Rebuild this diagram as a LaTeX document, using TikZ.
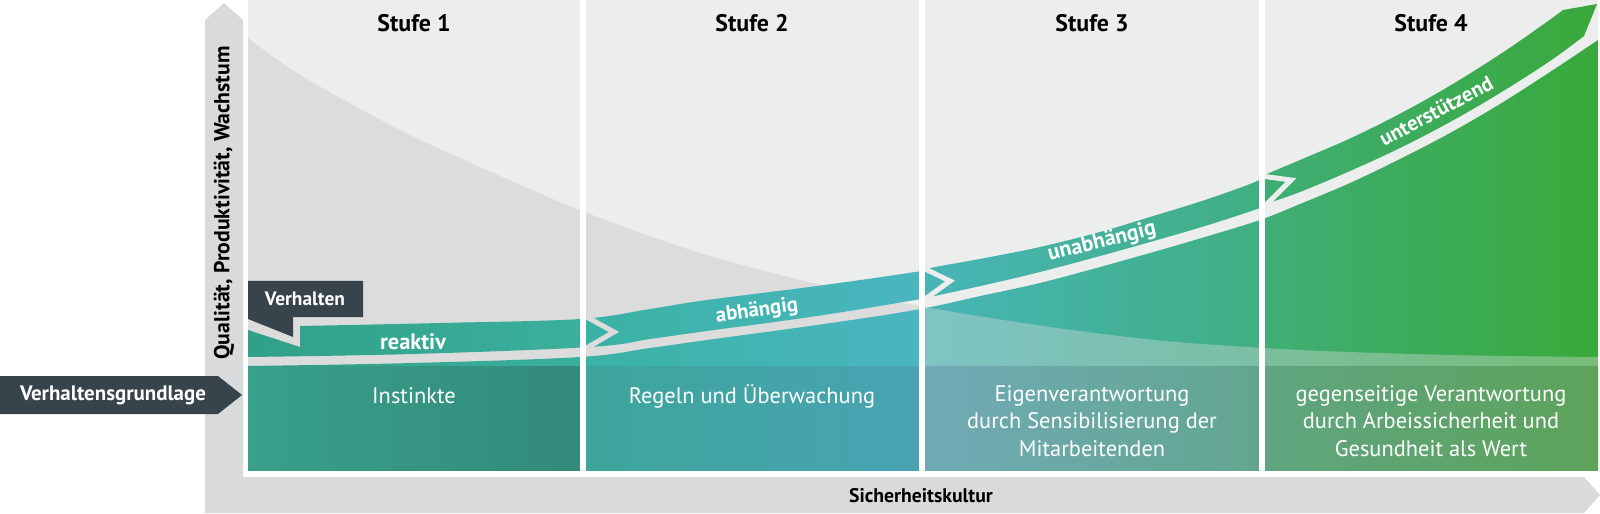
\documentclass[tikz,border=0pt]{standalone}
\usepackage{fontspec}
\setmainfont{PT Sans}
\definecolor{axisgray}{HTML}{D9DADB}
\definecolor{panelgray}{HTML}{ECEDED}
\definecolor{curvegray}{HTML}{DCDCDC}
\definecolor{slate}{HTML}{37444B}
\definecolor{cIa}{HTML}{31A088}\definecolor{cIb}{HTML}{3AB09D}
\definecolor{cIIa}{HTML}{3AB2A3}\definecolor{cIIb}{HTML}{4AB6C1}
\definecolor{cIIIa}{HTML}{47B5B7}\definecolor{cIIIb}{HTML}{40AF82}
\definecolor{cIVa}{HTML}{3FAE76}\definecolor{cIVb}{HTML}{39A93A}
\definecolor{bIa}{HTML}{38A08B}\definecolor{bIb}{HTML}{338A7A}
\definecolor{bIIa}{HTML}{3DA59B}\definecolor{bIIb}{HTML}{49A3B3}
\definecolor{bIIIa}{HTML}{70AAB5}\definecolor{bIIIb}{HTML}{62A68F}
\definecolor{bIVa}{HTML}{5FA580}\definecolor{bIVb}{HTML}{5DA35A}
\newcommand\curvepath{plot[smooth,tension=0.5] coordinates {(248,38) (300,75) (400,130) (500,176) (587,213) (700,253) (817,284) (925,307) (1050,327) (1165,341) (1300,350) (1450,355) (1598,357)} -- (1598,470) -- (248,470) -- cycle}
\newcommand\bandpath{(248,330) -- (300,347) -- (300,326) -- plot[smooth,tension=0.6] coordinates {(300,326) (440,323) (580,319) (650,309) (707,300) (817,286) (915,272) (930,268) (985,258) (1040,247) (1100,232) (1150,217) (1205,200) (1255,182) (1265,175) (1300,160) (1350,138.5) (1400,113.7) (1450,85.7) (1500,54.3) (1540,26.8) (1563,10)} -- (1597,4) -- (1584,36) -- plot[smooth,tension=0.6] coordinates {(1584,36) (1550,61) (1500,93) (1450,122) (1400,148) (1350,171) (1300,192) (1272,202) (1260,208) (1205,226) (1150,242) (1100,256) (1040,272) (985,285) (930,297) (915,300) (817,316) (707,331) (650,339) (590,347) (413,354) (248,357)} -- cycle}
\newcommand\fillpath{plot[smooth,tension=0.6] coordinates {(248,366) (413,363) (580,357) (650,348) (707,340) (817,325) (915,310) (985,295) (1040,283) (1100,267) (1150,253) (1205,237) (1260,220) (1300,204) (1350,183) (1400,159) (1450,133) (1500,104) (1550,72) (1598,40)} -- (1598,470) -- (248,470) -- cycle}
\newcommand\greenshade{%
  \shade[left color=cIa,right color=cIb] (248,-10) rectangle (583,520);
  \shade[left color=cIIa,right color=cIIb] (583,-10) rectangle (922,520);
  \shade[left color=cIIIa,right color=cIIIb] (922,-10) rectangle (1262,520);
  \shade[left color=cIVa,right color=cIVb] (1262,-10) rectangle (1600,520);}
\tikzset{
  stufe/.style={font=\fontsize{24}{28}\selectfont\bfseries, text=black, inner sep=0pt},
  boxtext/.style={font=\fontsize{22.5}{27.5}\selectfont, text=white, align=center, inner sep=0pt},
  bandlabel/.style={font=\fontsize{21}{25}\selectfont\bfseries, text=white, inner sep=0pt},
  axislabel/.style={font=\fontsize{19.8}{24}\selectfont\bfseries, text=black, inner sep=0pt},
  darklabel/.style={font=\fontsize{21}{25}\selectfont\bfseries, text=white, inner sep=0pt},
  gapline/.style={line width=5bp, miter limit=20, line join=miter},
  sepbar/.style={fill=white}
}
\begin{document}
\begin{tikzpicture}[x=1bp,y=-1bp]
\useasboundingbox (0,0) rectangle (1600,514);
% axes
\fill[axisgray] (205,20) -- (224,3) -- (243,20) -- (243,477) -- (1584,477) -- (1600,495) -- (1584,513) -- (205,513) -- cycle;
% panel
\fill[panelgray] (248,0) rectangle (1598,470);
\begin{scope}
  \clip (248,0) rectangle (1598,470);
  \fill[curvegray] \curvepath;
\end{scope}
% lower green fill
\begin{scope}
  \clip \fillpath;
  \greenshade
\end{scope}
% lightening under the curve in stages 3 and 4
\begin{scope}
  \clip \fillpath;
  \clip (925,0) rectangle (1598,470);
  \fill[curvegray, opacity=0.38] \curvepath;
\end{scope}
% the arrow band
\begin{scope}
  \clip \bandpath;
  \greenshade
\end{scope}
% chevron gaps between the stages
\draw[gapline, curvegray] (583,315) -- (614,332) -- (583,350);
\draw[gapline, panelgray] (921,267) -- (950,281) -- (921,302);
\draw[gapline, panelgray] (1261,176) -- (1291,180) -- (1265,206);
% boxes
\shade[left color=bIa,right color=bIb] (248,366) rectangle (580,470);
\shade[left color=bIIa,right color=bIIb] (586,366) rectangle (919,470);
\shade[left color=bIIIa,right color=bIIIb] (925,366) rectangle (1259,470);
\shade[left color=bIVa,right color=bIVb] (1265,366) rectangle (1598,470);
% separators
\fill[sepbar] (580,0) rectangle (586,470);
\fill[sepbar] (919,0) rectangle (925,470);
\fill[sepbar] (1259,0) rectangle (1265,470);
% callouts
\fill[slate] (248,281) -- (363,281) -- (363,317) -- (293,317) -- (293,337) -- (248,319) -- cycle;
\node[darklabel, font=\fontsize{19.5}{23}\selectfont\bfseries] (verh) at (305,299) {Verhalten};
\fill[slate] (0,376) -- (218,376) -- (242,395) -- (218,414) -- (0,414) -- cycle;
\node[darklabel] (grund) at (113,395) {Verhaltensgrundlage};
% headings
\node[stufe] (s1) at (414,23) {Stufe 1};
\node[stufe] (s2) at (752,23) {Stufe 2};
\node[stufe] (s3) at (1092,23) {Stufe 3};
\node[stufe] (s4) at (1431,23) {Stufe 4};
% band labels
\node[bandlabel, font=\fontsize{22.5}{26}\selectfont\bfseries] (l1) at (413,342) {reaktiv};
\node[bandlabel, rotate=8] (l2) at (757,311) {abhängig};
\node[bandlabel, rotate=14, font=\fontsize{22}{26}\selectfont\bfseries] (l3) at (1102,242) {unabhängig};
\node[bandlabel, rotate=28] (l4) at (1436,111) {unterstützend};
% box texts
\node[boxtext] (t1) at (414,396) {Instinkte};
\node[boxtext] (t2) at (752,396) {Regeln und Überwachung};
\node[boxtext] (t3) at (1092,421) {Eigenverantwortung\\durch Sensibilisierung der\\Mitarbeitenden};
\node[boxtext] (t4) at (1431,421) {gegenseitige Verantwortung\\durch Arbeissicherheit und\\Gesundheit als Wert};
% axis labels
\node[axislabel, font=\fontsize{21.8}{26}\selectfont\bfseries, rotate=90] (yl) at (224,203) {Qualität, Produktivität, Wachstum};
\node[axislabel] (xl) at (921,496) {Sicherheitskultur};
\end{tikzpicture}
\end{document}
